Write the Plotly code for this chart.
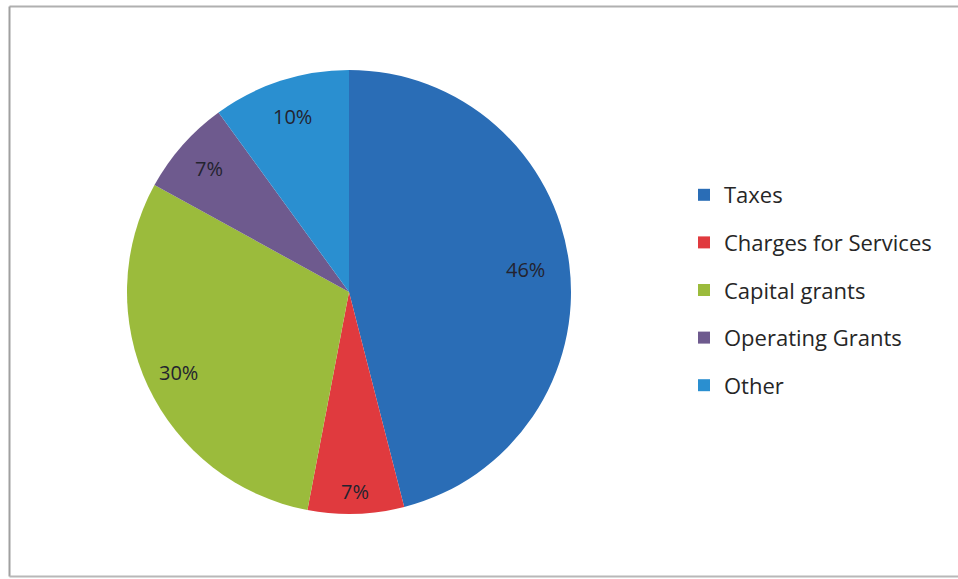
import math
import plotly.graph_objects as go

# ---- data ----
categories = ["Taxes", "Charges for Services", "Capital grants", "Operating Grants", "Other"]
values = [46, 7, 30, 7, 10]
colors = ["#2a6db6", "#e03a3e", "#9bbb3c", "#6e5a8e", "#2a8fd0"]

# ---- layout constants ----
W, H = 958, 579
CX, CY, R = 349, 292, 222
label_radius = [0.80, 0.90, 0.85, 0.84, 0.83]  # fraction of radius for label placement
FONT = "Open Sans"

fig = go.Figure()

fig.add_trace(go.Pie(
    labels=categories,
    values=values,
    marker=dict(colors=colors, line=dict(width=0)),
    sort=False,
    direction="clockwise",
    rotation=0,
    textinfo="none",
    hoverinfo="label+percent",
    showlegend=False,
    domain=dict(x=[(CX - R) / W, (CX + R) / W], y=[1 - (CY + R) / H, 1 - (CY - R) / H]),
))

# legend via dummy traces (for spacing control)
for cat, col in zip(categories, colors):
    fig.add_trace(go.Scatter(
        x=[None], y=[None], mode="markers", name=cat,
        marker=dict(symbol="square", size=12, color=col),
        legendgroup=cat, showlegend=True,
    ))

# percentage labels computed from data
total = sum(values)
cum = 0
annotations = []
for v, f in zip(values, label_radius):
    mid = (cum + v / 2) / total * 2 * math.pi
    cum += v
    px = CX + f * R * math.sin(mid)
    py = CY - f * R * math.cos(mid)
    annotations.append(dict(
        x=px / W, y=1 - py / H, xref="paper", yref="paper",
        xanchor="center", yanchor="middle",
        text=f"{round(v / total * 100)}%", showarrow=False,
        font=dict(family=FONT, size=20, color="#23232f"),
    ))

shapes = [
    dict(type="line", xref="paper", yref="paper", x0=9.5 / W, x1=1, y0=1 - 6.5 / H, y1=1 - 6.5 / H,
         line=dict(color="#b0b0b0", width=2)),
    dict(type="line", xref="paper", yref="paper", x0=9.5 / W, x1=9.5 / W, y0=1 - 6.5 / H, y1=1 - 576.5 / H,
         line=dict(color="#a0a0a0", width=2)),
    dict(type="line", xref="paper", yref="paper", x0=9.5 / W, x1=1, y0=1 - 576.5 / H, y1=1 - 576.5 / H,
         line=dict(color="#b8b8b8", width=2)),
]

fig.update_layout(
    width=W, height=H,
    margin=dict(l=0, r=0, t=0, b=0),
    paper_bgcolor="white", plot_bgcolor="white",
    xaxis=dict(visible=False), yaxis=dict(visible=False),
    annotations=annotations,
    shapes=shapes,
    legend=dict(
        x=684 / W, y=1 - 174 / H, xanchor="left", yanchor="top",
        font=dict(family=FONT, size=22, color="#262626"),
        tracegroupgap=16, itemsizing="constant",
        bgcolor="rgba(0,0,0,0)",
    ),
)

fig.write_html("out.html")
